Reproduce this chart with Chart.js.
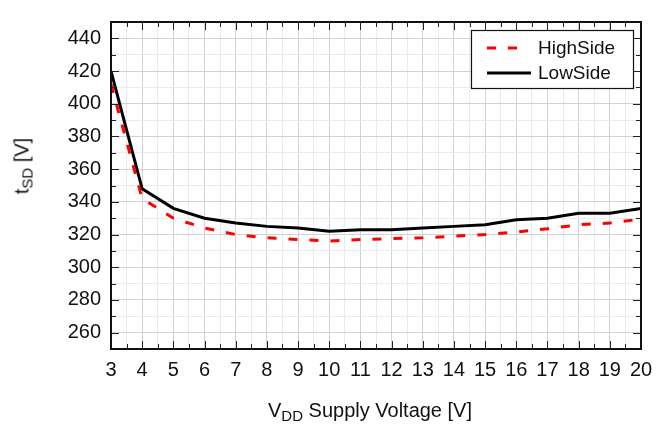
<!DOCTYPE html>
<html>
<head>
<meta charset="utf-8">
<script src="https://cdn.jsdelivr.net/npm/chart.js@4"></script>
<style>
  html, body { margin: 0; padding: 0; background: #fff; }
  #wrap { position: relative; width: 662px; height: 425px; font-family: "Liberation Sans", Arial, sans-serif; color: #111; }
  #chart { position: absolute; left: 0; top: 0; }
  .title { position: absolute; font-size: 20px; white-space: nowrap; }
  .title sub { font-size: 15px; vertical-align: -4px; line-height: 0; }
  #xTitle { left: 370px; top: 399px; transform: translateX(-50%); }
  #yTitle { left: 22px; top: 166px; transform: translate(-50%, -50%) rotate(-90deg); }
</style>
</head>
<body>
<div id="wrap">
  <canvas id="chart" width="662" height="425"></canvas>
  <div class="title" id="xTitle">V<sub>DD</sub> Supply Voltage [V]</div>
  <div class="title" id="yTitle">t<sub>SD</sub> [V]</div>
</div>
<script>
const voltages = [3, 4, 5, 6, 7, 8, 9, 10, 11, 12, 13, 14, 15, 16, 17, 18, 19, 20];
const highSide = [412, 342, 330, 324, 320, 318, 317, 316, 317, 317.5, 318, 319, 320, 321.6, 323.5, 326, 327, 329.5];
const lowSide  = [420, 348, 336, 330, 327, 325, 324, 322, 323, 323, 324, 325, 326, 329, 330, 333, 333, 336];
const seriesNames = ['HighSide', 'LowSide'];
const xRange = [3, 20];
const yRange = [250, 450];

const FONT = '"Liberation Sans", Arial, sans-serif';

function toPoints(values) {
    return voltages.map(function (v, i) { return { x: v, y: values[i] }; });
}

// inside tick marks, plot frame and legend box
const decorations = {
    id: 'decorations',
    afterDatasetsDraw: function (chart) {
        const ctx = chart.ctx;
        const area = chart.chartArea;
        const xs = chart.scales.x;
        const ys = chart.scales.y;
        ctx.save();
        ctx.strokeStyle = '#222';
        ctx.lineWidth = 1;
        ctx.beginPath();
        for (let v = xRange[0]; v <= xRange[1] + 1e-9; v += 0.5) {
            const px = Math.round(xs.getPixelForValue(v)) + 0.5;
            const len = Number.isInteger(v) ? 8 : 5;
            ctx.moveTo(px, area.bottom); ctx.lineTo(px, area.bottom - len);
            ctx.moveTo(px, area.top); ctx.lineTo(px, area.top + len);
        }
        for (let v = yRange[0]; v <= yRange[1]; v += 10) {
            const py = Math.round(ys.getPixelForValue(v)) + 0.5;
            const len = v % 20 === 0 ? 8 : 5;
            ctx.moveTo(area.left, py); ctx.lineTo(area.left + len, py);
            ctx.moveTo(area.right, py); ctx.lineTo(area.right - len, py);
        }
        ctx.stroke();

        ctx.lineWidth = 2;
        ctx.strokeStyle = '#111';
        ctx.strokeRect(area.left, area.top, area.right - area.left, area.bottom - area.top);

        // legend
        const bx = 471, by = 30, bw = 162, bh = 58;
        ctx.fillStyle = '#fff';
        ctx.fillRect(bx, by, bw, bh);
        ctx.lineWidth = 1.2;
        ctx.strokeStyle = '#111';
        ctx.strokeRect(bx + 0.5, by + 0.5, bw, bh);
        ctx.font = '19px ' + FONT;
        ctx.textBaseline = 'middle';
        ctx.textAlign = 'left';
        chart.data.datasets.forEach(function (ds, i) {
            const cy = by + 18 + i * 25;
            ctx.beginPath();
            ctx.strokeStyle = ds.borderColor;
            ctx.lineWidth = ds.borderWidth;
            ctx.setLineDash(ds.borderDash || []);
            ctx.moveTo(487, cy);
            ctx.lineTo(i === 0 ? 521 : 531, cy);
            ctx.stroke();
            ctx.setLineDash([]);
            ctx.fillStyle = '#111';
            ctx.fillText(ds.label, 538, cy + 1);
        });
        ctx.restore();
    }
};

new Chart(document.getElementById('chart'), {
    type: 'line',
    data: {
        datasets: [{
            label: seriesNames[0],
            data: toPoints(highSide),
            borderColor: '#ff0000',
            borderWidth: 3,
            borderDash: [9, 12],
            pointRadius: 0,
            tension: 0,
            fill: false
        }, {
            label: seriesNames[1],
            data: toPoints(lowSide),
            borderColor: '#000000',
            borderWidth: 3,
            pointRadius: 0,
            tension: 0,
            fill: false
        }]
    },
    options: {
        responsive: false,
        animation: false,
        layout: { padding: { top: 10, right: 21, left: 0, bottom: 0 } },
        plugins: {
            legend: { display: false },
            tooltip: { enabled: false }
        },
        scales: {
            x: {
                type: 'linear',
                min: xRange[0],
                max: xRange[1],
                afterFit: function (s) { s.height = 76; },
                border: { display: false },
                grid: {
                    drawTicks: false,
                    color: function (c) { return Number.isInteger(c.tick.value) ? '#d2d2d2' : '#ebebeb'; },
                    lineWidth: 1
                },
                ticks: {
                    stepSize: 0.5,
                    autoSkip: false,
                    maxRotation: 0,
                    padding: 9,
                    color: '#111',
                    font: { family: FONT, size: 20 },
                    callback: function (v) { return Number.isInteger(v) ? String(v) : ''; }
                }
            },
            y: {
                min: yRange[0],
                max: yRange[1],
                afterFit: function (s) { s.width = 111; },
                border: { display: false },
                grid: {
                    drawTicks: false,
                    color: function (c) { return c.tick.value % 20 === 0 ? '#d2d2d2' : '#ebebeb'; },
                    lineWidth: 1
                },
                ticks: {
                    stepSize: 10,
                    autoSkip: false,
                    padding: 10,
                    color: '#111',
                    font: { family: FONT, size: 20 },
                    callback: function (v) { return v % 20 === 0 ? String(v) : ''; }
                }
            }
        }
    },
    plugins: [decorations]
});
</script>
</body>
</html>
